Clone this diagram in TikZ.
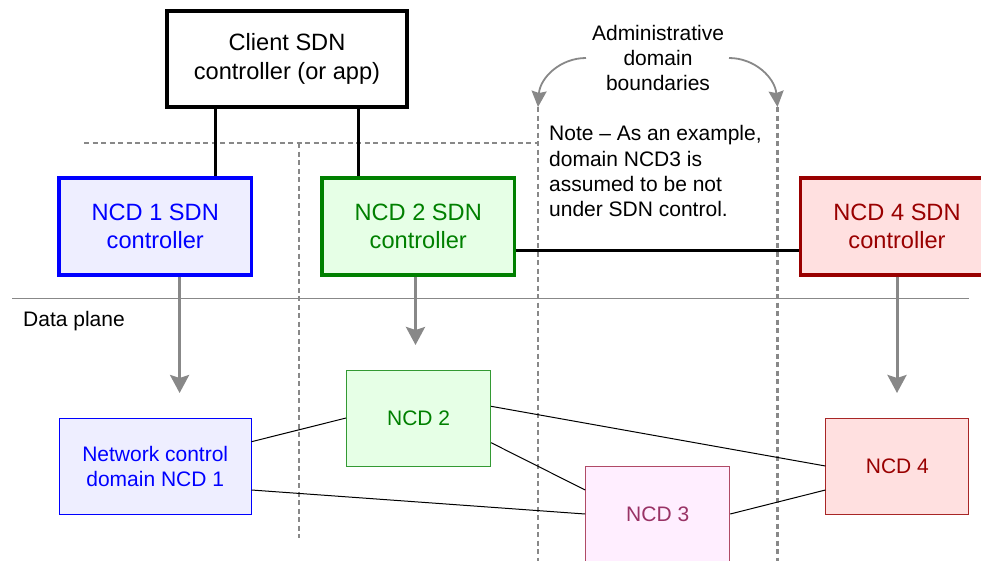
\documentclass[tikz,border=0pt]{standalone}
\usepackage{fontspec}
\setmainfont{Liberation Sans}
\usetikzlibrary{arrows.meta}

\definecolor{cblue}{HTML}{0000FF}
\definecolor{fblue}{HTML}{EEEEFF}
\definecolor{cgreen}{HTML}{008000}
\definecolor{fgreen}{HTML}{E6FFE6}
\definecolor{cred}{HTML}{990000}
\definecolor{fred}{HTML}{FFE0E0}
\definecolor{cmag}{HTML}{993366}
\definecolor{bmag}{HTML}{B04A66}
\definecolor{fmag}{HTML}{FFEEFF}
\definecolor{dgray}{HTML}{888888}

\tikzset{
  ctrlbox/.style={draw, line width=3.2pt, minimum width=192.5pt, minimum height=97pt,
    align=center, inner sep=0pt, font=\fontsize{23.6}{28.5}\selectfont},
  ncdbox/.style={draw, line width=1pt, minimum height=96pt,
    align=center, inner sep=0pt, font=\fontsize{21}{25}\selectfont},
  label21/.style={align=center, inner sep=0pt, font=\fontsize{21}{25.3}\selectfont},
  boundary/.style={dgray, line width=2.6pt, dash pattern=on 5pt off 3.5pt},
  ctrllink/.style={black, line width=3pt},
  datalink/.style={black, line width=1pt},
  mgmtarrow/.style={dgray, line width=3pt, -{Stealth[length=18pt,width=19pt,inset=3pt]}},
  notearrow/.style={dgray, line width=1.8pt, -{Stealth[length=16pt,width=15pt,inset=2pt]}}
}

\begin{document}
\begin{tikzpicture}[x=1pt, y=-1pt]
\useasboundingbox (0,0) rectangle (981,560);
\clip (0,0) rectangle (981,560);

% data plane separator
\coordinate (dpl) at (12,298);
\coordinate (dpr) at (969,298);
\draw[dgray, line width=1pt] (dpl) -- (dpr);
\node[label21, anchor=west] (dptext) at (23,321) {Data plane};

% administrative domain boundaries
\coordinate (hb1) at (84,143);
\coordinate (hb2) at (538,143);
\coordinate (vb1top) at (299,143);
\coordinate (vb1bot) at (299,538);
\coordinate (vb2top) at (538,107);
\coordinate (vb2bot) at (538,562);
\coordinate (vb3top) at (777.5,107);
\coordinate (vb3bot) at (777.5,562);
\draw[boundary] (hb1) -- (hb2);
\draw[boundary] (vb1top) -- (vb1bot);
\draw[boundary] (vb2top) -- (vb2bot);
\draw[boundary] (vb3top) -- (vb3bot);

% controllers
\node[ctrlbox, minimum width=240pt, minimum height=96pt, fill=white] (client) at (287,59)
  {Client SDN\\controller (or app)};
\node[ctrlbox, draw=cblue, fill=fblue, text=cblue] (top1) at (155.25,226.5)
  {NCD 1 SDN\\controller};
\node[ctrlbox, draw=cgreen, fill=fgreen, text=cgreen] (top2) at (418.25,226.5)
  {NCD 2 SDN\\controller};
\node[ctrlbox, draw=cred, fill=fred, text=cred] (top4) at (897,226.5)
  {NCD 4 SDN\\controller};

% controller links
\draw[ctrllink] ([xshift=-72pt]client.south) -- ([xshift=-72pt]client.south |- top1.north);
\draw[ctrllink] ([xshift=71.5pt]client.south) -- ([xshift=71.5pt]client.south |- top2.north);
\draw[ctrllink] (top2.east |- 0,250) -- (top4.west |- 0,250);

% note and its label
\node[label21] (admin) at (658,58) {Administrative\\domain\\boundaries};
\node[label21, align=left, anchor=north west] (note) at (549,125.5)
  {Note -- As an example,\\domain NCD3 is\\assumed to be not\\under SDN control.};
\draw[notearrow] (586,58) .. controls (560,58) and (540,78) .. (vb2top);
\draw[notearrow] (729,58) .. controls (755,58) and (775,78) .. (vb3top);

% data plane nodes
\node[ncdbox, minimum width=191.5pt, draw=cblue, fill=fblue, text=cblue] (n1) at (155.25,466)
  {Network control\\domain NCD 1};
\node[ncdbox, minimum width=144pt, draw=cgreen!80!white, fill=fgreen, text=cgreen] (n2) at (418.6,418)
  {NCD 2};
\node[ncdbox, minimum width=144pt, draw=bmag, fill=fmag, text=cmag] (n3) at (657.7,514)
  {NCD 3};
\node[ncdbox, minimum width=143pt, draw=cred!85!white, fill=fred, text=cred] (n4) at (897.4,466)
  {NCD 4};

% management arrows
\coordinate (a1) at (179.6,393);
\coordinate (a2) at (415.5,345);
\coordinate (a4) at (897,393);
\draw[mgmtarrow] (top1.south -| a1) -- (a1);
\draw[mgmtarrow] (top2.south -| a2) -- (a2);
\draw[mgmtarrow] (top4.south -| a4) -- (a4);

% data plane links
\draw[datalink] ([yshift=24.3pt]n1.east) -- (n2.west);
\draw[datalink] ([yshift=-24pt]n1.east) -- (n3.west);
\draw[datalink] ([yshift=11.7pt]n2.east) -- (n4.west);
\draw[datalink] ([yshift=-24.7pt]n2.east) -- ([yshift=24pt]n3.west);
\draw[datalink] (n3.east) -- ([yshift=-24pt]n4.west);
\end{tikzpicture}
\end{document}
